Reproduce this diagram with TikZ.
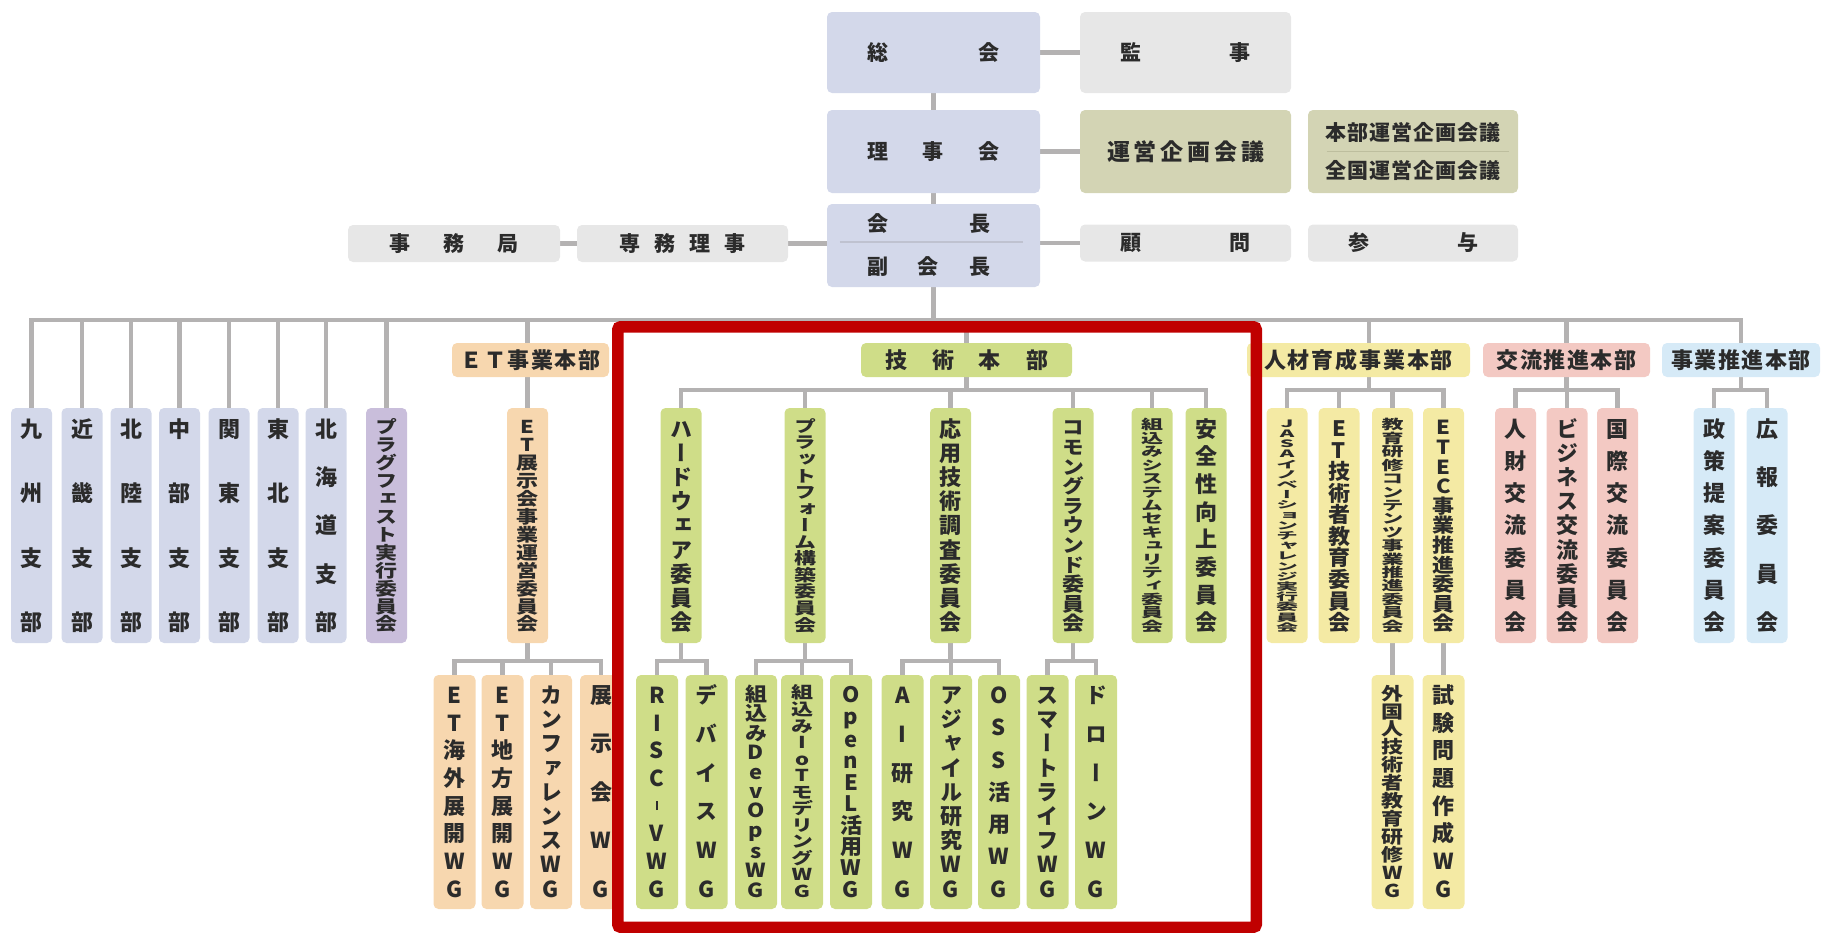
\documentclass[tikz,border=0pt]{standalone}
\usepackage{fontspec}
\usepackage{graphicx}
\setmainfont{Noto Sans CJK JP}
\newfontfamily\jpv{Noto Sans CJK JP}[RawFeature=+vert]
\usetikzlibrary{calc}
\pgfdeclarelayer{bg}
\pgfsetlayers{bg,main}

\definecolor{cblue}{HTML}{D3D8EA}
\definecolor{cgray}{HTML}{E7E7E7}
\definecolor{colive}{HTML}{D3D4B4}
\definecolor{cpurple}{HTML}{C9BEDB}
\definecolor{corange}{HTML}{F7D7AF}
\definecolor{cgreen}{HTML}{CFDD88}
\definecolor{cyellow}{HTML}{F4EAA4}
\definecolor{cpink}{HTML}{F3C9C3}
\definecolor{clblue}{HTML}{D6EAF7}
\definecolor{cline}{HTML}{B4B2B2}
\definecolor{cred}{HTML}{C00000}
\definecolor{ctext}{HTML}{2B2B2B}
\definecolor{csep}{HTML}{BFC2D0}
\definecolor{csepo}{HTML}{BDBE9E}

\makeatletter
\def\vtend{\vtend@mark}
\newcount\vtn
\newdimen\vtsp
\newdimen\vtpitch
\def\vtcount#1{\ifx\vtend#1\else\advance\vtn by 1\relax\expandafter\vtcount\fi}
\def\vtitem#1{\hbox to 40pt{\hss\scalebox{1}[\vtf]{\vrule height 19.36pt depth 2.64pt width 0pt\relax#1}\hss}}
\def\vtloop#1{\ifx\vtend#1\else\vtsep\vtitem{#1}\expandafter\vtloop\fi}
\newcommand\vcol[2][213pt]{%
  \vtn=0\relax\vtcount#2\vtend
  \vtsp=#1\relax
  \vtpitch=\dimexpr\vtsp/\vtn\relax
  \ifdim\vtpitch>22pt\relax\vtpitch=22pt\relax\fi
  \edef\vtf{\strip@pt\dimexpr\vtpitch/22\relax}%
  \jpv\fontsize{22pt}{22pt}\bfseries
  \vbox to \vtsp{\offinterlineskip
    \def\vtsep{\def\vtsep{\vskip 0pt plus 1fil}}%
    \vtloop#2\vtend}}
\def\hsloop#1{\ifx\vtend#1\else\hssep#1\expandafter\hsloop\fi}
\newcommand\hs[3]{\hbox to #1{\fontsize{#2}{#2}\bfseries\def\hssep{\def\hssep{\hfill}}\hsloop#3\vtend}}
\newcommand\vhyph{\raisebox{4pt}{\rule{2.2pt}{9pt}}}
\makeatother

\tikzset{
  box/.style={rounded corners=5pt, inner sep=0pt, text=ctext, draw=none},
  col/.style={box, minimum width=41pt, minimum height=235pt},
  wg/.style={box, minimum width=42pt, minimum height=234pt},
  hdr/.style={box, minimum height=34pt},
  conn/.style={draw=cline, line width=4.5pt},
  sep/.style={line width=1.3pt},
}

\begin{document}
\begin{tikzpicture}[x=1pt,y=-1pt]
\useasboundingbox (0,0) rectangle (1821,932);

% ---- top ----
\node[box, fill=cblue, minimum width=213pt, minimum height=81pt] (sokai) at (933.5,52.5) {\hs{132pt}{21pt}{総会}};
\node[box, fill=cgray, minimum width=211pt, minimum height=81pt] (kanji) at (1185.5,52.5) {\hs{130pt}{21pt}{監事}};
\node[box, fill=cblue, minimum width=213pt, minimum height=83pt] (rijikai) at (933.5,151.5) {\hs{132pt}{21pt}{理事会}};
\node[box, fill=colive, minimum width=211pt, minimum height=83pt] (unei) at (1185.5,151.5) {\hs{157pt}{23pt}{運営企画会議}};
\node[box, fill=colive, minimum width=210pt, minimum height=83pt] (zenkoku) at (1413,151.5)
  {\vbox{\offinterlineskip\hs{176pt}{21pt}{本部運営企画会議}\vskip 17pt\hs{176pt}{21pt}{全国運営企画会議}}};
\node[box, fill=cblue, minimum width=213pt, minimum height=83pt] (kaicho) at (933.5,245.5)
  {\hbox{\vbox{\offinterlineskip\hs{123pt}{21pt}{会長}\vskip 23pt\hs{123pt}{21pt}{副会長}}\kern10pt}};
\node[box, fill=cgray, minimum width=211pt, minimum height=37pt] (komon) at (1185.5,243) {\hs{130pt}{21pt}{顧問}};
\node[box, fill=cgray, minimum width=210pt, minimum height=37pt] (sanyo) at (1413,243) {\hs{130pt}{21pt}{参与}};
\node[box, fill=cgray, minimum width=212pt, minimum height=37pt] (jimu) at (454,243.5) {\hs{130pt}{21pt}{事務局}};
\node[box, fill=cgray, minimum width=211pt, minimum height=37pt] (senmu) at (682.5,243.5) {\hs{127pt}{21pt}{専務理事}};
\draw[sep, csep] ($(kaicho.west)+(13,-3.5)$) -- ($(kaicho.east)+(-17,-3.5)$);
\draw[sep, csepo] ($(zenkoku.west)+(19,0)$) -- ($(zenkoku.east)+(-9,0)$);

% ---- headers ----
\node[hdr, fill=corange, minimum width=157pt] (etb) at (530.5,360) {\hs{140pt}{22pt}{ＥＴ事業本部}};
\node[hdr, fill=cgreen, minimum width=211pt] (gijutsu) at (966.5,360) {\hs{163pt}{22pt}{技術本部}};
\node[hdr, fill=cyellow, minimum width=223pt] (jinzai) at (1358.5,360) {\hs{189pt}{22pt}{人材育成事業本部}};
\node[hdr, fill=cpink, minimum width=167pt] (koryu) at (1566.5,360) {\hs{140pt}{22pt}{交流推進本部}};
\node[hdr, fill=clblue, minimum width=158pt] (jigyo) at (1741,360) {\hs{139pt}{22pt}{事業推進本部}};

% ---- row 1 ----
\node[col, fill=cblue] (kyushu) at (31.5,525.5) {\vcol{九州支部}};
\node[col, fill=cblue] (kinki) at (82,525.5) {\vcol{近畿支部}};
\node[col, fill=cblue] (hokuriku) at (131,525.5) {\vcol{北陸支部}};
\node[col, fill=cblue] (chubu) at (179.5,525.5) {\vcol{中部支部}};
\node[col, fill=cblue] (kanto) at (229,525.5) {\vcol{関東支部}};
\node[col, fill=cblue] (tohoku) at (278,525.5) {\vcol{東北支部}};
\node[col, fill=cblue] (hokkaido) at (326,525.5) {\vcol{北海道支部}};
\node[col, fill=cpurple] (plugfest) at (386.5,525.5) {\vcol{プラグフェスト実行委員会}};
\node[col, fill=corange] (tenji) at (527.5,525.5) {\vcol{ET展示会事業運営委員会}};
\node[col, fill=cgreen] (hard) at (681,525.5) {\vcol{ハードウェア委員会}};
\node[col, fill=cgreen] (plat) at (805,525.5) {\vcol{プラットフォーム構築委員会}};
\node[col, fill=cgreen] (oyo) at (950.5,525.5) {\vcol{応用技術調査委員会}};
\node[col, fill=cgreen] (common) at (1073,525.5) {\vcol{コモングラウンド委員会}};
\node[col, fill=cgreen] (sec) at (1152,525.5) {\vcol{組込みシステムセキュリティ委員会}};
\node[col, fill=cgreen] (anzen) at (1206,525.5) {\vcol{安全性向上委員会}};
\node[col, fill=cyellow] (jasa) at (1287,525.5) {\vcol{JASAイノベーションチャレンジ実行委員会}};
\node[col, fill=cyellow] (etgi) at (1339,525.5) {\vcol{ET技術者教育委員会}};
\node[col, fill=cyellow] (kyoiku) at (1392.5,525.5) {\vcol{教育研修コンテンツ事業推進委員会}};
\node[col, fill=cyellow] (etec) at (1443.5,525.5) {\vcol{ETEC事業推進委員会}};
\node[col, fill=cpink] (jinzaik) at (1515.5,525.5) {\vcol{人財交流委員会}};
\node[col, fill=cpink] (biz) at (1567,525.5) {\vcol{ビジネス交流委員会}};
\node[col, fill=cpink] (kokusai) at (1617.5,525.5) {\vcol{国際交流委員会}};
\node[col, fill=clblue] (seisaku) at (1714,525.5) {\vcol{政策提案委員会}};
\node[col, fill=clblue] (koho) at (1767,525.5) {\vcol{広報委員会}};

% ---- row 2 ----
\node[wg, fill=corange] (kaigai) at (454.5,792) {\vcol{ET海外展開WG}};
\node[wg, fill=corange] (chiho) at (502.5,792) {\vcol{ET地方展開WG}};
\node[wg, fill=corange] (conf) at (551,792) {\vcol{カンファレンスWG}};
\node[wg, fill=corange] (tenjikai) at (601,792) {\vcol{展示会WG}};
\node[wg, fill=cgreen] (risc) at (657,792) {\vcol{RISC{\vhyph}VWG}};
\node[wg, fill=cgreen] (device) at (706.5,792) {\vcol{デバイスWG}};
\node[wg, fill=cgreen] (devops) at (756,792) {\vcol{組込みDevOpsWG}};
\node[wg, fill=cgreen] (iot) at (802,792) {\vcol{組込みIoTモデリングWG}};
\node[wg, fill=cgreen] (openel) at (851,792) {\vcol{OpenEL活用WG}};
\node[wg, fill=cgreen] (ai) at (902.5,792) {\vcol{AI研究WG}};
\node[wg, fill=cgreen] (agile) at (951,792) {\vcol{アジャイル研究WG}};
\node[wg, fill=cgreen] (oss) at (999,792) {\vcol{OSS活用WG}};
\node[wg, fill=cgreen] (smart) at (1047.5,792) {\vcol{スマートライフWG}};
\node[wg, fill=cgreen] (drone) at (1096,792) {\vcol{ドローンWG}};
\node[wg, fill=cyellow] (gaikoku) at (1392.5,792) {\vcol{外国人技術者教育研修WG}};
\node[wg, fill=cyellow] (shiken) at (1443.5,792) {\vcol{試験問題作成WG}};

% ---- connectors ----
\coordinate (bus) at (0,320);
\coordinate (cb) at (0,390);
\coordinate (wb) at (0,661);
\begin{pgfonlayer}{bg}
\draw[conn] (sokai.south) -- (rijikai.north);
\draw[conn] (rijikai.south) -- (kaicho.north);
\draw[conn] (sokai.east) -- (kanji.west);
\draw[conn] (rijikai.east) -- (unei.west);
\draw[conn] (komon.west -| kaicho.east) -- (komon.west);
\draw[conn] (jimu.east) -- (senmu.west);
\draw[conn] (senmu.east) -- (senmu.east -| kaicho.west);
\draw[conn] (kaicho.south) -- (kaicho.south |- bus);
\draw[conn] (kyushu.north) |- (jigyo.north |- bus) -- (jigyo.north);
\foreach \n in {kinki,hokuriku,chubu,kanto,tohoku,hokkaido,plugfest,tenji,gijutsu,koryu}
  \draw[conn] (\n.north) -- (\n.north |- bus);
\draw[conn] ([xshift=10.5pt]jinzai.north) -- ([xshift=10.5pt]jinzai.north |- bus);
% tech
\draw[conn] (gijutsu.south) -- (gijutsu.south |- cb);
\draw[conn] (hard.north) |- (anzen.north |- cb) -- (anzen.north);
\foreach \n in {plat,oyo,common,sec} \draw[conn] (\n.north) -- (\n.north |- cb);
% jinzai
\draw[conn] ([xshift=10.5pt]jinzai.south) -- ([xshift=10.5pt]jinzai.south |- cb);
\draw[conn] (jasa.north) |- (etec.north |- cb) -- (etec.north);
\foreach \n in {etgi,kyoiku} \draw[conn] (\n.north) -- (\n.north |- cb);
% koryu
\draw[conn] (koryu.south) -- (koryu.south |- cb);
\draw[conn] (jinzaik.north) |- (kokusai.north |- cb) -- (kokusai.north);
\draw[conn] (biz.north) -- (biz.north |- cb);
% jigyo
\draw[conn] (jigyo.south) -- (jigyo.south |- cb);
\draw[conn] (seisaku.north) |- (koho.north |- cb) -- (koho.north);
% row 2
\draw[conn] (tenji.south) -- (tenji.south |- wb);
\draw[conn] (kaigai.north) |- (tenjikai.north |- wb) -- (tenjikai.north);
\foreach \n in {chiho,conf} \draw[conn] (\n.north) -- (\n.north |- wb);
\draw[conn] (hard.south) -- (hard.south |- wb);
\draw[conn] (risc.north) |- (device.north |- wb) -- (device.north);
\draw[conn] (plat.south) -- (plat.south |- wb);
\draw[conn] (devops.north) |- (openel.north |- wb) -- (openel.north);
\draw[conn] (iot.north) -- (iot.north |- wb);
\draw[conn] (oyo.south) -- (oyo.south |- wb);
\draw[conn] (ai.north) |- (oss.north |- wb) -- (oss.north);
\draw[conn] (agile.north) -- (agile.north |- wb);
\draw[conn] (common.south) -- (common.south |- wb);
\draw[conn] (smart.north) |- (drone.north |- wb) -- (drone.north);
\draw[conn] (kyoiku.south) -- (gaikoku.north);
\draw[conn] (etec.south) -- (shiken.north);
\end{pgfonlayer}

% ---- red frame ----
\draw[cred, line width=11.5pt, rounded corners=3pt] (617.75,326.75) rectangle (1256.25,927.25);
\end{tikzpicture}
\end{document}
